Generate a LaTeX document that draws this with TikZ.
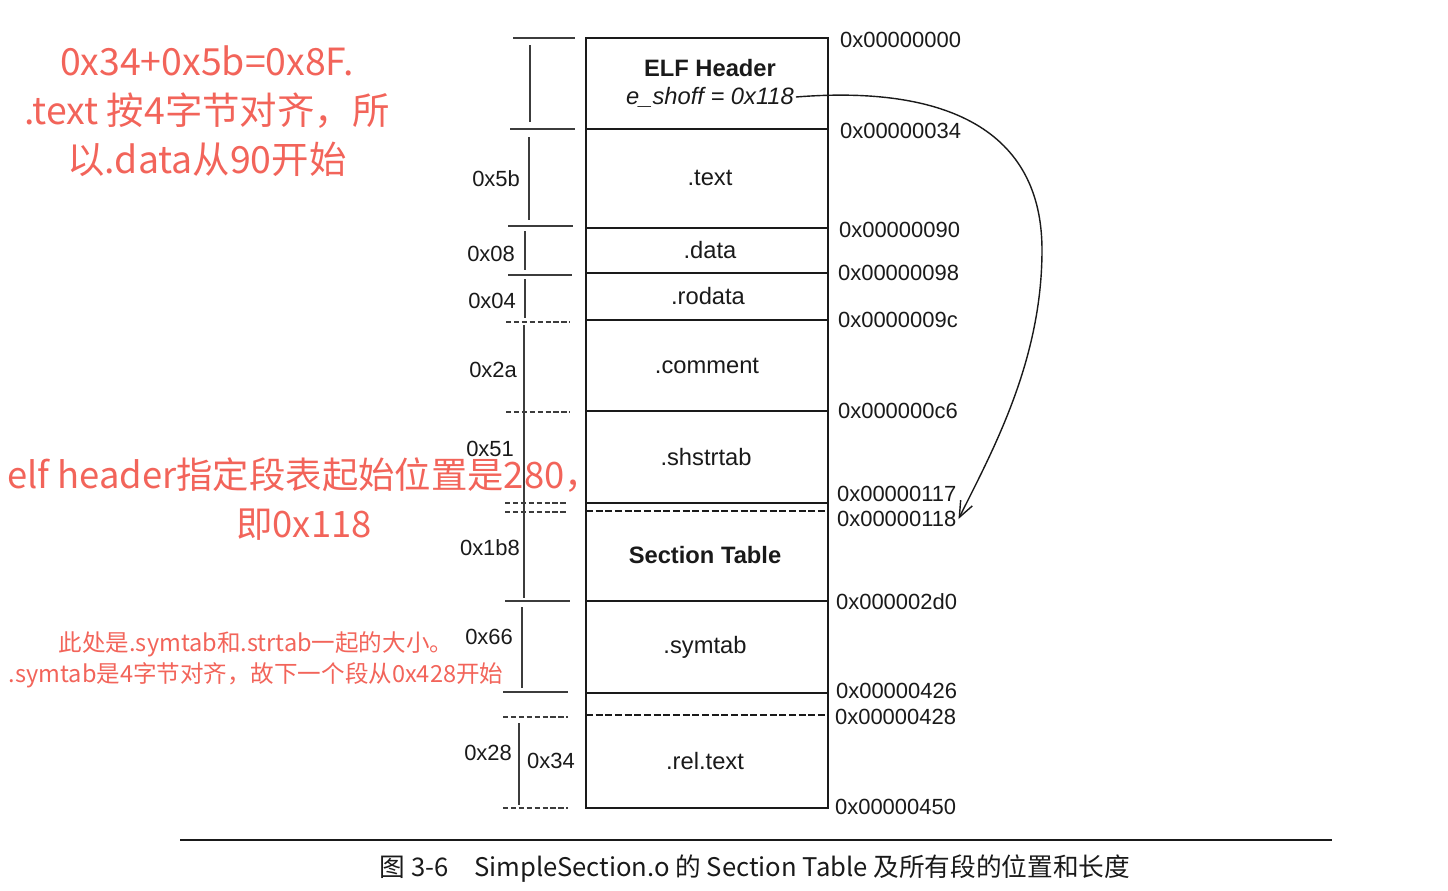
\documentclass[tikz,border=0pt]{standalone}
\usepackage{fontspec}
\setmainfont{Liberation Sans}
\newfontfamily\cjk{Noto Sans CJK SC}
\usepackage{tikz}
\usetikzlibrary{arrows.meta}
\definecolor{Ink}{HTML}{1A1A1A}
\definecolor{Note}{HTML}{F2645A}
\tikzset{
  every node/.append style={text=Ink, inner sep=1pt},
  seclbl/.style={font=\fontsize{13.5}{16}\selectfont},
  seclblbf/.style={font=\fontsize{13.5}{16}\selectfont\bfseries},
  addr/.style={anchor=west, font=\fontsize{12.5}{15}\selectfont},
  sizelbl/.style={anchor=east, font=\fontsize{12.5}{15}\selectfont},
  rule/.style={draw=Ink, line width=0.8pt},
  tick/.style={draw=Ink!85, line width=0.6pt},
  tickdash/.style={tick, dash pattern=on 3pt off 1.5pt},
  ptr/.style={draw=Ink, line width=0.8pt, -{Straight Barb[length=3.2mm,width=2.6mm]}},
  note/.style={text=Note, align=center, font=\cjk\fontsize{21.3}{28}\selectfont},
  notesm/.style={text=Note, align=center, font=\cjk\fontsize{13.4}{17.6}\selectfont},
}
\begin{document}
\begin{tikzpicture}[x=0.02cm, y=-0.02cm]
  \useasboundingbox (0,0) rectangle (1448,890);

  \draw[rule] (586,38) rectangle (828,808);
  \foreach \y in {129,228,273,320,411,503,601,693}
    \draw[rule] (586,\y) -- (828,\y);
  \foreach \y in {511,715}
    \draw[rule, dash pattern=on 4pt off 1.5pt] (586,\y) -- (828,\y);

  \foreach \y/\a/\b in {38/513/575, 129/510/575, 226/508/573, 275/508/572, 601/505/570, 692/503/568}
    \draw[tick] (\a,\y) -- (\b,\y);
  \foreach \y/\a/\b in {322/506/570, 412/506/570, 503/505/568, 512/505/568, 717/503/568, 808/503/568}
    \draw[tickdash] (\a,\y) -- (\b,\y);
  \foreach \x/\a/\b in {530/45/122, 529/137/220, 525/231/270, 525/279/318, 524/325/598, 522/607/688, 519/723/805}
    \draw[tick] (\x,\a) -- (\x,\b);

  \node[seclblbf] (elf) at (710,68) {ELF Header};
  \node[seclbl, font=\fontsize{13.5}{16}\selectfont\itshape] (eshoff) at (710,97) {e\_shoff = 0x118};
  \node[seclbl] (sectext) at (710,178) {.text};
  \node[seclbl] (secdata) at (710,250) {.data};
  \node[seclbl] (secrodata) at (708,296) {.rodata};
  \node[seclbl] (seccomment) at (707,366) {.comment};
  \node[seclbl] (secshstrtab) at (706,457) {.shstrtab};
  \node[seclblbf] (sectable) at (705,555) {Section Table};
  \node[seclbl] (secsymtab) at (705,647) {.symtab};
  \node[seclbl] (secreltext) at (705,761) {.rel.text};

  \foreach \y/\x/\t/\n in {40/838/0x00000000/a000, 131/838/0x00000034/a034, 230/837/0x00000090/a090,
      273/836/0x00000098/a098, 320/836/0x0000009c/a09c, 411/836/0x000000c6/a0c6,
      494/835/0x00000117/a117, 519/835/0x00000118/a118, 602/834/0x000002d0/a2d0,
      691/834/0x00000426/a426, 717/833/0x00000428/a428, 807/833/0x00000450/a450}
    \node[addr] (\n) at (\x,\y) {\t};

  \node[sizelbl] (s5b) at (522,179) {0x5b};
  \node[sizelbl] (s08) at (517,254) {0x08};
  \node[sizelbl] (s04) at (518,301) {0x04};
  \node[sizelbl] (s2a) at (519,370) {0x2a};
  \node[sizelbl] (s51) at (516,449) {0x51};
  \node[sizelbl] (s1b8) at (522,548) {0x1b8};
  \node[sizelbl] (s66) at (515,637) {0x66};
  \node[sizelbl] (s28) at (514,753) {0x28};
  \node[addr, anchor=center] (s34) at (551,761) {0x34};

  \coordinate (bend) at (1042,250);
  \draw[ptr] (eshoff.east) .. controls +(150,-12) and +(0,-120) .. (bend)
    .. controls +(0,110) and +(35,-70) .. (a118.east);

  \draw[draw=Ink, line width=1.5pt] (180,840) -- (1332,840);
  \node[font=\cjk\fontsize{14.6}{18}\selectfont] (caption) at (755,869)
    {图 3-6\quad SimpleSection.o 的 Section Table 及所有段的位置和长度};

  \node[note] (note1) at (207,111) {0x34+0x5b=0x8F.\\.text 按4字节对齐，所\\以.data从90开始};
  \node[note, font=\cjk\fontsize{20.7}{28}\selectfont] (note2) at (304,499) {elf header指定段表起始位置是280，\\即0x118};
  \node[notesm] (note3) at (256,660) {此处是.symtab和.strtab一起的大小。\\.symtab是4字节对齐，故下一个段从0x428开始};
\end{tikzpicture}
\end{document}
